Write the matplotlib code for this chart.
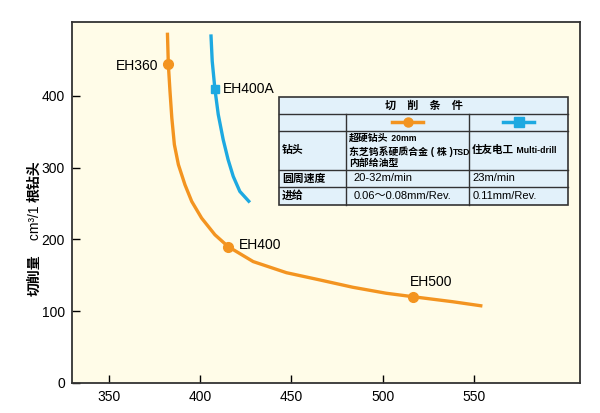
import numpy as np
import matplotlib
matplotlib.use("Agg")
import matplotlib.pyplot as plt
from matplotlib.patches import Rectangle

plt.rcParams['font.family'] = ['Liberation Sans', 'Noto Sans CJK SC', 'DejaVu Sans']

# datos
eh_x = [382.2, 382.7, 383.6, 384.6, 386.0, 388.2, 391.8, 395.5, 400.9, 408.2,
        415.4, 429.1, 447.3, 465.4, 483.6, 501.8, 516.3, 538.1, 554.5]
eh_y = [488.0, 443.7, 406.4, 369.3, 332.0, 304.1, 276.0, 252.8, 229.6, 206.3,
        189.9, 169.0, 153.5, 143.5, 133.2, 124.9, 120.1, 113.1, 107.1]
sumi_x = [406.0, 406.7, 408.2, 410.0, 412.7, 415.4, 418.2, 421.8, 427.3]
sumi_y = [485.6, 448.3, 408.8, 374.0, 339.0, 311.0, 287.7, 266.8, 251.4]

pt_names = ["EH360", "EH400", "EH500"]
pt_x = [382.7, 415.5, 516.3]
pt_y = [443.7, 189.5, 120.1]
sq_name = "EH400A"
sq_x = 408.4
sq_y = 408.8

x_ticks = [350, 400, 450, 500, 550]
y_ticks = [0, 100, 200, 300, 400]

# tabla de condiciones
tabla_titulo = "切　削　条　件"
fila_labels = ["钻头", "圆周速度", "进给"]
broca_lineas = [("超硬钻头", " 20mm"), ("东芝钨系硬质合金 ( 株 )", "TSD"), ("内部给油型", "")]
blue_broca = ("住友电工", " Multi-drill")
velocidad = ["20-32m/min", "23m/min"]
avance = ["0.06～0.08mm/Rev.", "0.11mm/Rev."]

naranja = "#F39420"
azul = "#1DA9E1"
borde = "#333333"

fig = plt.figure(figsize=(6, 4.13), dpi=100)
ax = fig.add_axes([0.12, 0.073, 0.847, 0.874])
ax.set_facecolor("#FFFCE8")

ax.plot(eh_x, eh_y, color=naranja, lw=2.4, solid_capstyle="butt", solid_joinstyle="round")
ax.plot(sumi_x, sumi_y, color=azul, lw=2.4, solid_capstyle="butt", solid_joinstyle="round")
ax.plot(pt_x, pt_y, "o", color=naranja, ms=7)
ax.plot([sq_x], [sq_y], "s", color=azul, ms=6)

ax.text(377.5, 442, pt_names[0], ha="right", va="center", fontsize=10)
ax.text(421.5, 192, pt_names[1], ha="left", va="center", fontsize=10)
ax.text(526.3, 141, pt_names[2], ha="center", va="center", fontsize=10)
ax.text(412.5, 409, sq_name, ha="left", va="center", fontsize=10)

ax.set_xlim(330, 608)
ax.set_ylim(0, 503)
ax.set_xticks(x_ticks)
ax.set_yticks(y_ticks)
ax.tick_params(direction="in", length=6, width=1, labelsize=10, pad=5)
for s in ax.spines.values():
    s.set_linewidth(1.3)
    s.set_color(borde)

# etiqueta del eje Y en tres trozos
yl = fig.text(0.058, 0.283, "切削量", rotation=90, ha="center", va="bottom",
              fontsize=10, fontweight="bold")
yl2 = ax.annotate("　cm³/1 ", xy=(0.5, 1), xycoords=yl, rotation=90,
                  ha="center", va="bottom", fontsize=10)
ax.annotate("根钻头", xy=(0.5, 1), xycoords=yl2, rotation=90,
            ha="center", va="bottom", fontsize=10, fontweight="bold")

# tabla dibujada a mano en coordenadas de ejes
tx0, tx1 = 0.4075, 0.9758
cx1, cx2 = 0.5394, 0.7815
ry = [0.7914, 0.7452, 0.6989, 0.59, 0.5438, 0.493]
tr = ax.transAxes
ax.add_patch(Rectangle((tx0, ry[-1]), tx1 - tx0, ry[0] - ry[-1], transform=tr,
                       facecolor="#E2F1FA", edgecolor=borde, lw=1.2, zorder=5))
for y in ry[1:-1]:
    ax.plot([tx0, tx1], [y, y], color=borde, lw=1, transform=tr, zorder=6)
for x in [cx1, cx2]:
    ax.plot([x, x], [ry[1], ry[-1]], color=borde, lw=1, transform=tr, zorder=6)

ax.text((tx0 + tx1) / 2, (ry[0] + ry[1]) / 2, tabla_titulo, transform=tr,
        ha="center", va="center", fontsize=8, fontweight="bold", zorder=7)

# simbolos de leyenda
ly = (ry[1] + ry[2]) / 2
for xc, c, m in [((cx1 + cx2) / 2, naranja, "o"), ((cx2 + tx1) / 2, azul, "s")]:
    ax.plot([xc - 0.03, xc + 0.03], [ly, ly], color=c, lw=2.5, transform=tr, zorder=7)
    ax.plot([xc], [ly], m, color=c, ms=6.5, transform=tr, zorder=8)

kw = dict(transform=tr, va="center", zorder=7)
for i, lab in enumerate(fila_labels):
    yc = (ry[i + 2] + ry[i + 3]) / 2
    ax.text(tx0 + 0.006, yc, lab, ha="left", fontsize=7.8, fontweight="bold", **kw)

# celda de broca (tres lineas, con partes pequenas en negrita)
for (cn, lat), yc in zip(broca_lineas, [0.678, 0.641, 0.610]):
    t = ax.text(cx1 + 0.006, yc, cn, ha="left", fontsize=7.1, fontweight="bold", **kw)
    if lat:
        ax.annotate(lat, xy=(1, 0.45), xycoords=t, ha="left", va="center",
                    fontsize=6.2, fontweight="bold", zorder=7)
yc = (ry[2] + ry[3]) / 2
t = ax.text(cx2 + 0.006, yc, blue_broca[0], ha="left", fontsize=7.6, fontweight="bold", **kw)
ax.annotate(blue_broca[1], xy=(1, 0.45), xycoords=t, ha="left", va="center",
            fontsize=6.3, fontweight="bold", zorder=7)

for j, (v, a) in enumerate(zip(velocidad, avance)):
    x0 = (cx1 + 0.014) if j == 0 else (cx2 + 0.006)
    ax.text(x0, (ry[3] + ry[4]) / 2, v, ha="left", fontsize=8, **kw)
    ax.text(x0, (ry[4] + ry[5]) / 2, a, ha="left", fontsize=8, **kw)

fig.savefig("out.png", dpi=100)
